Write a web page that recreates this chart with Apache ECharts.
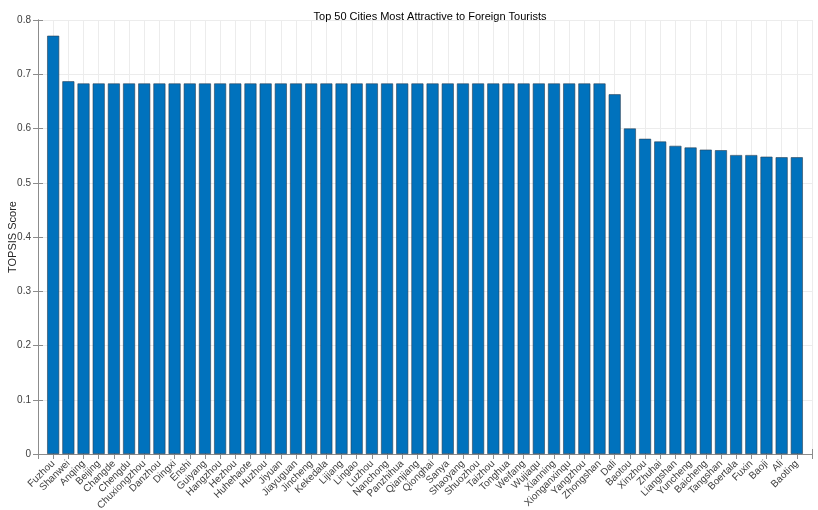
<!doctype html>
<html>
<head>
<meta charset="utf-8">
<title>Top 50 Cities</title>
<style>
	html,body{height:100%;padding:0;margin:0;background:#fff;}
</style>
</head>
<body>
<div style="width:818px;height:510px;" id="chart"></div>
<script src="https://cdn.jsdelivr.net/npm/echarts@6/dist/echarts.min.js"></script>
<script>
var cities = ['Fuzhou','Shanwei','Anqing','Beijing','Changde','Chengdu','Chuxiongzhou','Danzhou','Dingxi','Enshi',
	'Guiyang','Hangzhou','Hezhou','Huhehaote','Huzhou','Jiyuan','Jiayuguan','Jincheng','Kekedala','Lijiang',
	'Lingao','Luzhou','Nanchong','Panzhihua','Qianjiang','Qionghai','Sanya','Shaoyang','Shuozhou','Taizhou',
	'Tonghua','Weifang','Wujiaqu','Xianning','Xionganxinqu','Yangzhou','Zhongshan','Dali','Baotou','Xinzhou',
	'Zhuhai','Liangshan','Yuncheng','Baicheng','Tangshan','Boertala','Fuxin','Baoji','Ali','Baoting'];
var scores = [0.771, 0.687, 0.683, 0.683, 0.683, 0.683, 0.683, 0.683, 0.683, 0.683,
	0.683, 0.683, 0.683, 0.683, 0.683, 0.683, 0.683, 0.683, 0.683, 0.683,
	0.683, 0.683, 0.683, 0.683, 0.683, 0.683, 0.683, 0.683, 0.683, 0.683,
	0.683, 0.683, 0.683, 0.683, 0.683, 0.683, 0.683, 0.663, 0.600, 0.581,
	0.576, 0.568, 0.565, 0.561, 0.560, 0.551, 0.551, 0.548, 0.547, 0.547];
var yMin = 0, yMax = 0.8, yStep = 0.1;

var chart = echarts.init(document.getElementById('chart'));
var axisColor = '#8c8c8c';
var textColor = '#404040';
var fnt = 'Liberation Sans, Arial, sans-serif';

// bars sit on integer positions 1..50 of a value axis so ticks and grid lines land on bar centres
var barData = cities.map(function(c, i){ return [i + 1, scores[i]]; });

var option = {
	animation: false,
	textStyle: {fontFamily: fnt},
	title: {
		text: 'Top 50 Cities Most Attractive to Foreign Tourists',
		left: 425, top: 6, textAlign: 'center',
		textStyle: {fontSize: 11, fontWeight: 'normal', color: '#000', fontFamily: fnt}
	},
	grid: {left: 38, right: 6, top: 20, bottom: 56, outerBoundsMode: 'none', containLabel: false},
	xAxis: [{
		type: 'value', min: 0, max: cities.length + 1, interval: 1,
		axisLine: {show: true, lineStyle: {color: axisColor}},
		axisTick: {show: true, inside: true, length: 5, lineStyle: {color: axisColor}},
		splitLine: {show: true, lineStyle: {color: '#ececec'}},
		axisLabel: {
			rotate: 45, fontSize: 10, color: textColor, margin: 8, fontFamily: fnt,
			formatter: function(v){ return cities[v - 1] || ''; }
		}
	}, {
		type: 'value', position: 'top', min: 0, max: cities.length + 1, interval: 1,
		axisLine: {show: true, lineStyle: {color: axisColor}},
		axisTick: {show: true, inside: true, length: 5, lineStyle: {color: axisColor}},
		splitLine: {show: false},
		axisLabel: {show: false}
	}],
	yAxis: [{
		type: 'value', min: yMin, max: yMax, interval: yStep,
		name: 'TOPSIS Score', nameLocation: 'middle', nameGap: 20, nameRotate: 90, nameMoveOverlap: false,
		nameTextStyle: {fontSize: 11, color: '#262626', fontFamily: fnt},
		axisLine: {show: true, lineStyle: {color: axisColor}},
		axisTick: {show: true, inside: true, length: 5, lineStyle: {color: axisColor}},
		splitLine: {show: true, lineStyle: {color: '#ececec'}},
		axisLabel: {
			fontSize: 10, color: textColor, margin: 7, fontFamily: fnt,
			formatter: function(v){ return String(+v.toFixed(1)); }
		}
	}, {
		type: 'value', position: 'right', min: yMin, max: yMax, interval: yStep,
		axisLine: {show: true, lineStyle: {color: axisColor}},
		axisTick: {show: true, inside: true, length: 5, lineStyle: {color: axisColor}},
		splitLine: {show: false},
		axisLabel: {show: false}
	}],
	series: [{
		type: 'bar',
		xAxisIndex: 0, yAxisIndex: 0,
		data: barData,
		barWidth: 12,
		itemStyle: {color: '#0072BD', borderColor: '#2b3f52', borderWidth: 0.6}
	}]
};
chart.setOption(option);
</script>
</body>
</html>
